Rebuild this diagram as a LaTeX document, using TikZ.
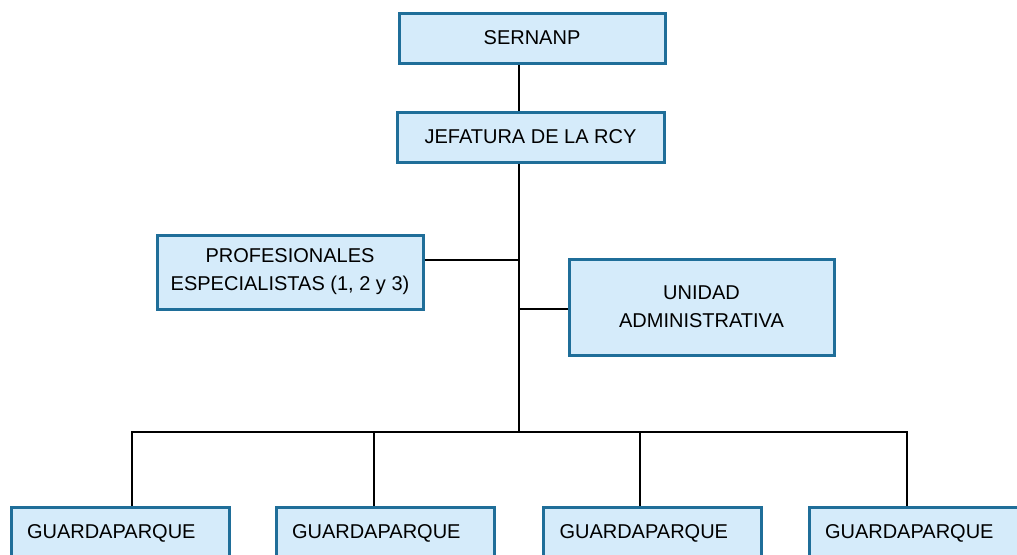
\documentclass[tikz,border=0pt]{standalone}
\usepackage{fontspec}
\setmainfont{Liberation Sans}
\usetikzlibrary{calc}
\definecolor{boxfill}{HTML}{D5EBFA}
\definecolor{boxline}{HTML}{1F6E99}

\begin{document}
\begin{tikzpicture}[x=0.75pt,y=-0.75pt,
  caja/.style={draw=boxline,fill=boxfill,line width=2.25pt,inner sep=0pt,
    align=center,font=\fontsize{15}{21}\selectfont},
  guarda/.style={caja,minimum width=163.5pt,minimum height=39.75pt,
    inner xsep=12pt,text width=139.5pt,align=left},
  linea/.style={line width=1.4pt}]

\useasboundingbox (0,0) rectangle (1017,554);
\clip (0,0) rectangle (1017,554);

\node[caja,minimum width=199.5pt,minimum height=37.5pt] (sern) at (532,38) {SERNANP};
\node[caja,minimum width=200.25pt,minimum height=37.5pt] (jef) at (530.5,137) {JEFATURA DE LA RCY};
\node[caja,minimum width=199.5pt,minimum height=55.5pt] (prof) at (290,272) {PROFESIONALES\\ESPECIALISTAS (1, 2 y 3)};
\node[caja,minimum width=198.75pt,minimum height=72pt] (unid) at (701.5,307) {UNIDAD\\ADMINISTRATIVA};

\node[guarda] (g1) at (120,533.5) {GUARDAPARQUE};
\node[guarda] (g2) at (385,533.5) {GUARDAPARQUE};
\node[guarda] (g3) at (652.5,533.5) {GUARDAPARQUE};
\node[guarda] (g4) at (918,533.5) {GUARDAPARQUE};

\coordinate (t1) at (519,260);
\coordinate (t2) at (519,309);
\coordinate (bus) at (519,432);
\coordinate (d1) at (132,432);
\coordinate (d2) at (374,432);
\coordinate (d3) at (640,432);
\coordinate (d4) at (907,432);

\path[linea] (sern.south -| bus) edge (jef.north -| bus)
  (jef.south -| bus) edge (bus)
  (prof.east |- t1) edge (t1)
  (t2) edge (unid.west |- t2);

\draw[linea] (g1.north -| d1) -- (d1) -- (d4) -- (g4.north -| d4);
\path[linea] (d2) edge (g2.north -| d2) (d3) edge (g3.north -| d3);

\end{tikzpicture}
\end{document}
